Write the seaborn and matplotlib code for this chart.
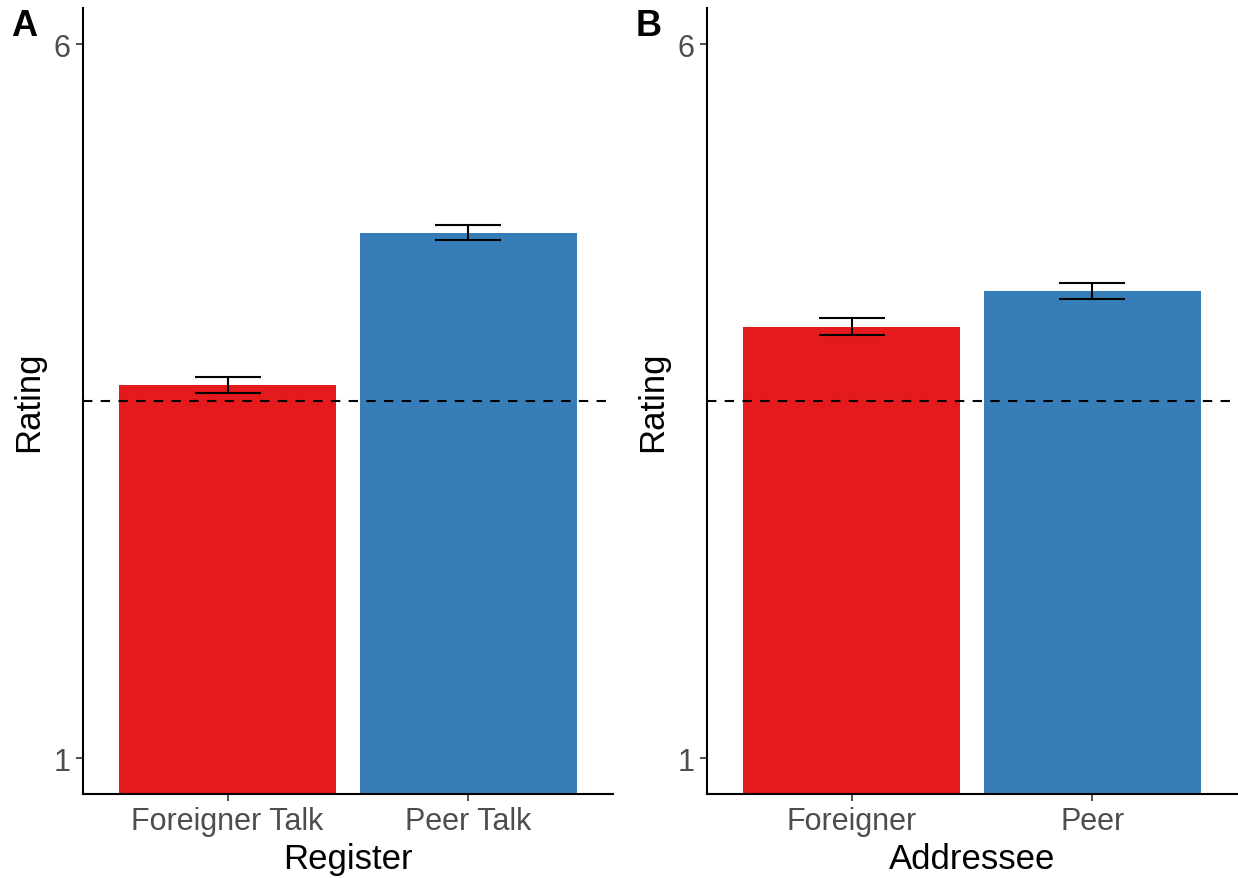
import matplotlib
matplotlib.use("Agg")
import matplotlib.pyplot as plt
import seaborn as sns
import pandas as pd

# Mean ratings and standard errors per condition
register_levels = ["Foreigner Talk", "Peer Talk"]
register_means = [3.61, 4.68]
register_se = [0.056, 0.053]

addressee_levels = ["Foreigner", "Peer"]
addressee_means = [4.02, 4.27]
addressee_se = [0.058, 0.058]

scale_midpoint = 3.5
y_ticks = [1, 6]
bar_colors = ["#E41A1C", "#377EB8"]

sns.set_theme(style="ticks")
plt.rcParams["font.family"] = ["Liberation Sans", "DejaVu Sans"]

fig = plt.figure(figsize=(12.38, 8.79), dpi=100)
ax_a = fig.add_axes([83 / 1238, 0.0959, 530 / 1238, 0.8935])
ax_b = fig.add_axes([707 / 1238, 0.0959, 530 / 1238, 0.8935])

panels = [
    (ax_a, register_levels, register_means, register_se, "Register", "A"),
    (ax_b, addressee_levels, addressee_means, addressee_se, "Addressee", "B"),
]

for ax, levels, means, se, xlabel, tag in panels:
    df = pd.DataFrame({"cond": levels, "rating": means, "se": se})
    sns.barplot(data=df, x="cond", y="rating", hue="cond",
                palette=bar_colors, width=0.9, errorbar=None,
                legend=False, ax=ax, saturation=1, linewidth=0)
    ax.errorbar(x=range(len(levels)), y=df["rating"], yerr=df["se"],
                fmt="none", ecolor="black", elinewidth=1.5,
                capsize=24, capthick=1.5, zorder=5)
    ax.axhline(scale_midpoint, color="black", linestyle=(0, (4.5, 4)),
               linewidth=1.5, zorder=6)
    ax.set_ylim(0.75, 6.25)
    ax.set_xlim(-0.6, 1.6)
    ax.set_yticks(y_ticks)
    ax.set_yticklabels([str(t) for t in y_ticks])
    ax.set_xlabel(xlabel, fontsize=25, color="black", labelpad=4)
    ax.set_ylabel("Rating", fontsize=25, color="black", labelpad=6)
    ax.tick_params(axis="both", labelsize=22, labelcolor="#4D4D4D",
                   color="#333333", length=5, width=1.2, pad=4)
    for side in ["top", "right"]:
        ax.spines[side].set_visible(False)
    for side in ["left", "bottom"]:
        ax.spines[side].set_color("black")
        ax.spines[side].set_linewidth(1.5)

fig.text(11 / 1238, 1 - 36 / 879, "A", fontsize=26, fontweight="bold",
         color="black")
fig.text(636 / 1238, 1 - 36 / 879, "B", fontsize=26, fontweight="bold",
         color="black")

fig.savefig("out.png", dpi=100)
